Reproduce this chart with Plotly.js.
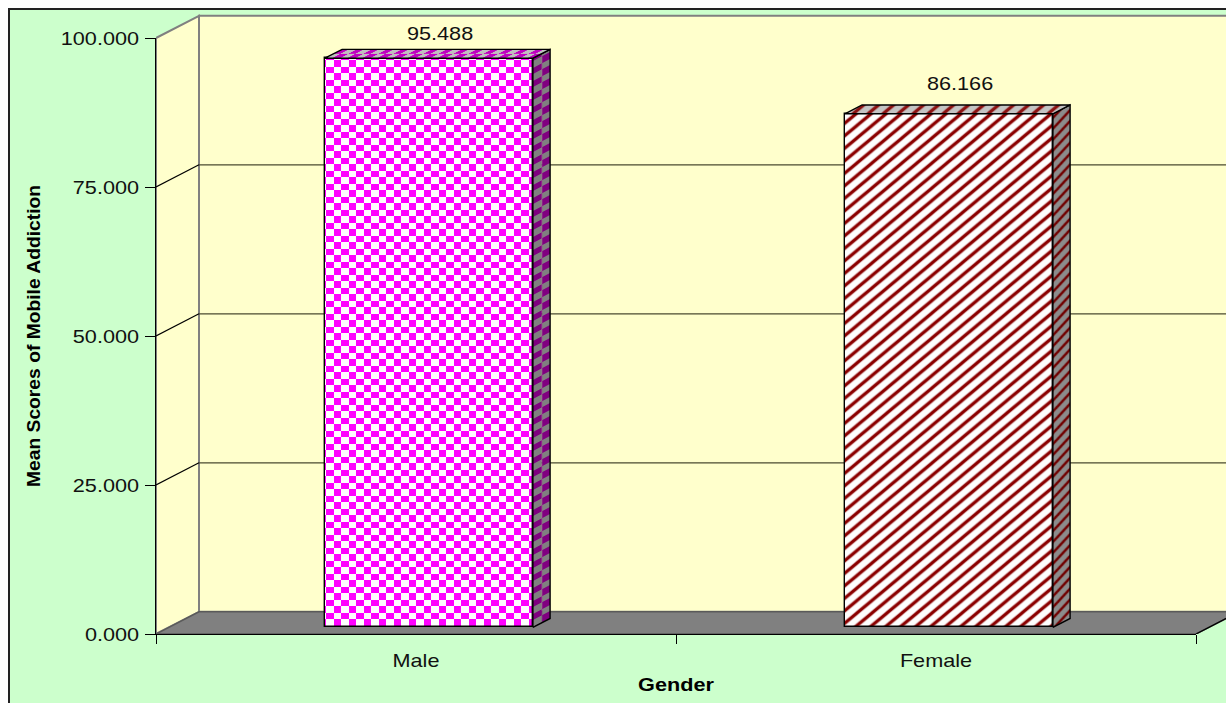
<!DOCTYPE html>
<html>
<head>
<meta charset="utf-8">
<script src="https://cdn.plot.ly/plotly-3.0.1.min.js"></script>
<style>
html,body{margin:0;padding:0;background:#fff;overflow:hidden}
#chart{position:absolute;left:8px;top:8px;width:1218px;height:695px;border-left:2px solid #222;border-top:2px solid #222;box-sizing:border-box}
</style>
</head>
<body>
<div id="chart"></div>
<script>
const categories = ['Male', 'Female'];
const values = [95.488, 86.166];
const yTicks = [0, 25, 50, 75, 100];
const yTitle = 'Mean Scores of Mobile Addiction';
const xTitle = 'Gender';

// category slots on a linear axis
const slots = categories.map((c, i) => i);
const xMin = -0.5, xMax = categories.length - 0.5;
const gridVals = yTicks.slice(1, -1);

// oblique depth projection, in axis units (d = 0 front plane, d = 1 back wall)
const DX = 0.0827, DY = 3.72;
const pt = (x, y, d) => [x + d * DX, y + d * DY];
const poly = pts => ({x: pts.map(p => p[0]), y: pts.map(p => p[1])});
const D0 = 0.3, D1 = 0.7, HALF = 0.2;

const FONT = 'Liberation Sans, Arial, sans-serif';
const base = {type: 'scatter', mode: 'lines', cliponaxis: false, hoverinfo: 'skip', showlegend: false};
const GREY = '#808080', WALL = '#FFFFCC';
const traces = [];

// ---- room (walls, floor, grid) on the full-size hidden axes ----
traces.push({...base, ...poly([pt(xMin,0,0), pt(xMin,100,0), pt(xMin,100,1), pt(xMin,0,1), pt(xMin,0,0)]),
  fill: 'toself', fillcolor: WALL, line: {color: GREY, width: 2}});
traces.push({...base, ...poly([pt(xMin,0,1), pt(xMin,100,1), pt(xMax,100,1), pt(xMax,0,1), pt(xMin,0,1)]),
  fill: 'toself', fillcolor: WALL, line: {color: GREY, width: 2}});
traces.push({...base, ...poly([pt(xMin,0,0), pt(xMin,0,1), pt(xMax,0,1), pt(xMax,0,0), pt(xMin,0,0)]),
  fill: 'toself', fillcolor: GREY, line: {color: '#5a5a5a', width: 1.5}});
traces.push({...base, ...poly([pt(xMax,0,0), pt(xMax,0,1)]), line: {color: '#000', width: 1.3}});
gridVals.forEach(v => {
  traces.push({...base, ...poly([pt(xMin,v,0), pt(xMin,v,1)]), line: {color: '#000', width: 1.2}});
  traces.push({...base, ...poly([pt(xMin,v,1), pt(xMax,v,1)]), line: {color: '#4a4a30', width: 1.2}});
});

// ---- boxes on the visible axes ----
const onAxes = {xaxis: 'x2', yaxis: 'y2'};
const checker = {shape: '.', size: 14.6, solidity: 0.25};
const stripes = {shape: '/', size: 13, solidity: 0.3};
const looks = [
  {p: checker, fg: '#FF00FF', bg: '#FFFFFF', sideFg: '#800080', sideBg: '#808080', topFg: '#C000C0', topBg: '#C0C0C0'},
  {p: stripes, fg: '#8B0000', bg: '#FEFEFE', sideFg: '#700000', sideBg: '#8C8C8C', topFg: '#8B1010', topBg: '#C4C4C4'}
];
const edge = {color: '#000', width: 1.4};
slots.forEach((s, i) => {
  const L = looks[i], v = values[i];
  const l = s - HALF, r = s + HALF;
  traces.push({type: 'bar', ...onAxes, x: [pt(s,0,D0)[0]], y: [v], base: [pt(0,0,D0)[1]], width: [2 * HALF],
    cliponaxis: false, showlegend: false, name: categories[i], hovertemplate: categories[i] + ': %{y:.3f}<extra></extra>',
    marker: {color: L.bg, line: edge, pattern: {...L.p, fgcolor: L.fg, bgcolor: L.bg}}});
  traces.push({...base, ...onAxes, ...poly([pt(r,0,D0), pt(r,v,D0), pt(r,v,D1), pt(r,0,D1), pt(r,0,D0)]),
    fill: 'toself', fillcolor: L.sideBg, line: edge,
    fillpattern: {...L.p, fgcolor: L.sideFg, bgcolor: L.sideBg}});
  traces.push({...base, ...onAxes, ...poly([pt(l,v,D0), pt(r,v,D0), pt(r,v,D1), pt(l,v,D1), pt(l,v,D0)]),
    fill: 'toself', fillcolor: L.topBg, line: edge,
    fillpattern: {...L.p, fgcolor: L.topFg, bgcolor: L.topBg}});
});

// data labels
const labelLift = [3.4, 4.3];
traces.push({...base, ...onAxes, mode: 'text',
  x: slots.map(s => pt(s, 0, 0.56)[0]),
  y: values.map((v, i) => v + labelLift[i]),
  text: values.map(v => v.toFixed(3)),
  textposition: 'top center',
  textfont: {family: FONT, size: 19, color: '#111'}});

const pxPerUnitX = 520, pxPerUnitY = 5.96;
const layout = {
  width: 1216, height: 693,
  margin: {l: 146, r: 0, t: 2, b: 69, pad: 0},
  paper_bgcolor: '#CCFFCC', plot_bgcolor: 'rgba(0,0,0,0)',
  showlegend: false, bargap: 0, barmode: 'overlay',
  font: {family: FONT, color: '#000'},
  // hidden axes spanning the whole drawing, same scale as the visible ones
  xaxis: {visible: false, fixedrange: true, range: [xMin, xMin + 1070 / pxPerUnitX], domain: [0, 1]},
  yaxis: {visible: false, fixedrange: true, range: [0, 622 / pxPerUnitY], domain: [0, 1]},
  xaxis2: {anchor: 'y2', domain: [0, 1040 / 1070], type: 'linear', range: [xMin, xMax], tickmode: 'array', tickvals: slots, ticktext: categories,
    ticks: '', showgrid: false, zeroline: false, showline: true, linecolor: '#000', linewidth: 1.2,
    ticklabelstandoff: 9, tickfont: {family: FONT, size: 19, color: '#111'},
    minor: {tickmode: 'array', tickvals: [xMin, 0.5, xMax], ticks: 'outside', ticklen: 9, tickwidth: 1.2, tickcolor: '#000', showgrid: false},
    title: {text: xTitle, font: {family: FONT, size: 19, color: '#000', weight: 'bold'}, standoff: 7}},
  yaxis2: {anchor: 'x2', domain: [0, 596 / 622], type: 'linear', range: [0, 100], tickmode: 'array', tickvals: yTicks, tickformat: '.3f',
    ticks: 'outside', ticklen: 10, tickwidth: 1.2, tickcolor: '#000', showgrid: false, zeroline: false,
    showline: true, linecolor: '#000', linewidth: 1.2, ticklabelstandoff: 2,
    tickfont: {family: FONT, size: 19, color: '#111'},
    title: {text: yTitle, font: {family: FONT, size: 18, color: '#000', weight: 'bold'}, standoff: 25}}
};

// Plotly has no checkerboard pattern and its stripes are fixed at 45 degrees;
// rebuild the tiles to the reference's proportions and shear those on the receding faces.
function refinePatterns() {
  const NS = 'http://www.w3.org/2000/svg';
  const CW = 8, CW2 = 7, CH = 7, CH2 = 6, SW = 15, SH = 12.5;
  const add = (p, tag, attrs) => {
    const e = document.createElementNS(NS, tag);
    Object.keys(attrs).forEach(k => e.setAttribute(k, attrs[k]));
    p.appendChild(e);
  };
  const tileTransform = {
    'rgb(255, 255, 255)': 'translate(5,9)',
    'rgb(128, 128, 128)': 'matrix(1.13,-0.6,0,1,377,569)',
    'rgb(192, 192, 192)': 'matrix(1,0,-1.3,0.69,176.5,20)',
    'rgb(254, 254, 254)': 'translate(11,0)',
    'rgb(140, 140, 140)': 'matrix(1,-0.35,0,0.87,0,0)',
    'rgb(196, 196, 196)': 'translate(8,0)'
  };
  document.querySelectorAll('#chart pattern').forEach(p => {
    const bgRect = p.querySelector('rect');
    const bg = bgRect.getAttribute('fill') || bgRect.style.fill;
    const c = p.querySelector('circle');
    const l = p.querySelector('path');
    if (c) {
      const fg = c.getAttribute('fill') || c.style.fill;
      while (p.firstChild) p.removeChild(p.firstChild);
      p.setAttribute('width', CW + CW2); p.setAttribute('height', CH + CH2);
      [[0,0,CW,CH,bg],[CW,CH,CW2,CH2,bg],[CW,0,CW2,CH,fg],[0,CH,CW,CH2,fg]].forEach(([x,y,w,h,f]) =>
        add(p, 'rect', {x: x, y: y, width: w, height: h, fill: f}));
    } else if (l) {
      const fg = l.getAttribute('stroke') || l.style.stroke;
      while (p.firstChild) p.removeChild(p.firstChild);
      p.setAttribute('width', SW); p.setAttribute('height', SH);
      add(p, 'rect', {x: 0, y: 0, width: SW, height: SH, fill: bg});
      const d = `M-3,2.5L3,-2.5M${SW-3},${SH+2.5}L${SW+3},${SH-2.5}M0,${SH}L${SW},0`;
      add(p, 'path', {d: d, fill: 'none', stroke: fg, 'stroke-width': 4.4, 'stroke-opacity': 0.3});
      add(p, 'path', {d: d, fill: 'none', stroke: fg, 'stroke-width': 2.8});
    }
    p.setAttribute('patternTransform', tileTransform[bg] || '');
  });
}

// The reference's lettering is wider than Arial at the same height.
function widenText() {
  document.querySelectorAll('#chart svg text').forEach(t => {
    const len = t.getComputedTextLength();
    if (!len) return;
    const k = t.textContent === yTitle ? 1.07 : 1.14;
    t.setAttribute('textLength', len * k);
    t.setAttribute('lengthAdjust', 'spacingAndGlyphs');
  });
}

Plotly.newPlot('chart', traces, layout, {displayModeBar: false, responsive: false})
  .then(() => { refinePatterns(); widenText(); });
</script>
</body>
</html>
